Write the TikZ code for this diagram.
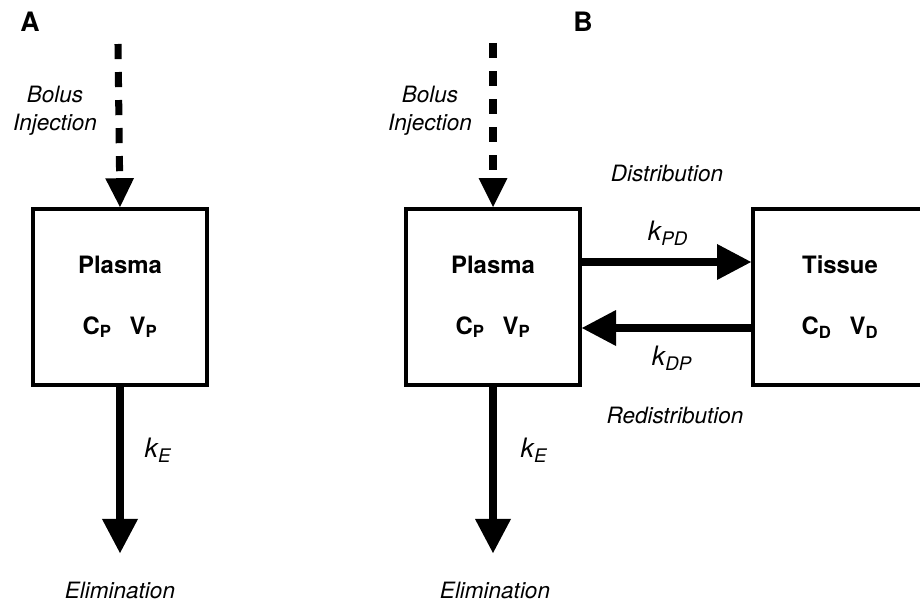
\documentclass[tikz,border=0pt]{standalone}
\usepackage{fontspec}
\setmainfont{TeX Gyre Heros}
\usetikzlibrary{arrows.meta}

\begin{document}
\begin{tikzpicture}[x=0.025cm,y=-0.025cm,
    compartment/.style={draw=black,line width=2.8pt,minimum width=4.35cm,
      minimum height=4.4cm,align=center,font=\fontsize{17}{20}\bfseries},
    flow/.style={line width=5.5pt,-{Triangle[length=0.85cm,width=0.9cm,line width=0pt]}},
    bolus/.style={line width=5pt,dash pattern=on 0.38cm off 0.32cm,
      -{Triangle[length=0.72cm,width=0.72cm,line width=0pt]}},
    lbl/.style={font=\fontsize{16}{20}\selectfont\itshape,align=center},
    rate/.style={font=\fontsize{19}{20}\selectfont\itshape},
    panel/.style={font=\fontsize{19}{20}\bfseries}]

\clip (0,0) rectangle (920,604);

% panel A
\node[panel] (A) at (30,22) {A};
\coordinate (injA) at (118,44);
\node[compartment] (plasmaA) at (120,297) {Plasma\\[23pt]C\textsubscript{P}\hspace{0.45cm}V\textsubscript{P}};
\coordinate (elimA) at (120,553);
\node[lbl] (bolusA) at (55,111) {Bolus\\Injection};
\node[rate] (kEA) at (158,450) {k\textsubscript{E}};
\node[lbl] (eliminationA) at (120,590) {Elimination};

\draw[bolus] (injA) -- (plasmaA.north);
\draw[flow] (plasmaA.south) -- (elimA);

% panel B
\node[panel] (B) at (583,22) {B};
\coordinate (injB) at (493,43);
\node[compartment] (plasmaB) at (493,297) {Plasma\\[23pt]C\textsubscript{P}\hspace{0.45cm}V\textsubscript{P}};
\node[compartment] (tissue) at (840,297) {Tissue\\[23pt]C\textsubscript{D}\hspace{0.45cm}V\textsubscript{D}};
\coordinate (elimB) at (493,553);
\node[lbl] (bolusB) at (430,111) {Bolus\\Injection};
\node[lbl] (distr) at (667,173) {Distribution};
\node[rate] (kPD) at (668,233) {k\textsubscript{PD}};
\node[rate] (kDP) at (672,358) {k\textsubscript{DP}};
\node[lbl] (redistr) at (675,415) {Redistribution};
\node[rate] (kEB) at (534,450) {k\textsubscript{E}};
\node[lbl] (eliminationB) at (495,590) {Elimination};

\draw[bolus] (injB) -- (plasmaB.north);
\draw[flow] ([yshift=0.875cm]plasmaB.east) -- ([yshift=0.875cm]tissue.west);
\draw[flow] ([yshift=-0.775cm]tissue.west) -- ([yshift=-0.775cm]plasmaB.east);
\draw[flow] (plasmaB.south) -- (elimB);

\end{tikzpicture}
\end{document}
